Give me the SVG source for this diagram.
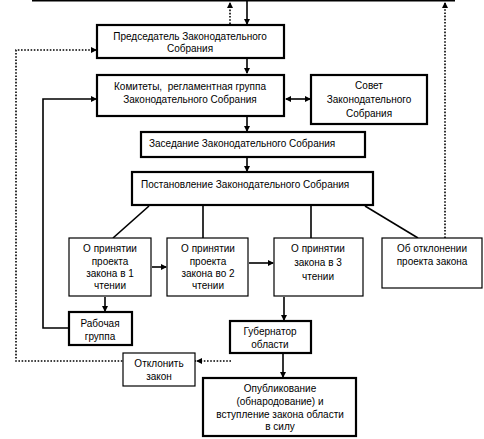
<svg xmlns="http://www.w3.org/2000/svg" width="484" height="439" viewBox="0 0 484 439">
<defs>
<marker id="ah" markerWidth="6" markerHeight="6" refX="5" refY="3" orient="auto-start-reverse" markerUnits="userSpaceOnUse"><path d="M0,0 L6,3 L0,6 z" fill="#000"/></marker>
<style>
text{font-family:"Liberation Sans",Arial,sans-serif;font-size:10px;fill:#000;text-anchor:middle;white-space:pre}
.thick{fill:#fff;stroke:#000;stroke-width:2.2}
.thin{fill:#fff;stroke:#000;stroke-width:1.2}
.ln{fill:none;stroke:#000;stroke-width:1.6}
.dot{fill:none;stroke:#000;stroke-width:1.6;stroke-dasharray:1.6 1.6}
</style>
</defs>
<rect width="484" height="439" fill="#fff"/>
<g id="connectors">
<line class="ln" x1="32" y1="0.8" x2="455" y2="0.8" stroke-width="2"/>
<line class="ln" x1="247" y1="1" x2="247" y2="24" marker-end="url(#ah)"/>
<line class="dot" x1="230" y1="24" x2="230" y2="3" marker-end="url(#ah)"/>
<line class="dot" x1="445" y1="238" x2="445" y2="3" marker-end="url(#ah)"/>
<polyline class="dot" points="196,361 16,361 16,50 96,50" marker-end="url(#ah)"/>
<line class="dot" x1="231" y1="361" x2="197" y2="361" marker-end="url(#ah)"/>
<line class="ln" x1="247" y1="59" x2="247" y2="73" marker-end="url(#ah)"/>
<line class="ln" x1="286" y1="99" x2="310" y2="99" marker-end="url(#ah)" marker-start="url(#ah)"/>
<polyline class="ln" points="69,328 43,328 43,99 96,99" marker-end="url(#ah)"/>
<line class="ln" x1="247" y1="117" x2="247" y2="131" marker-end="url(#ah)"/>
<line class="ln" x1="247" y1="158" x2="247" y2="171" marker-end="url(#ah)"/>
<line class="ln" x1="149" y1="206" x2="113" y2="238"/>
<line class="ln" x1="203" y1="206" x2="203" y2="238"/>
<line class="ln" x1="311" y1="206" x2="311" y2="238"/>
<line class="ln" x1="365" y1="206" x2="418" y2="238"/>
<line class="ln" x1="152" y1="267" x2="166" y2="267" marker-end="url(#ah)"/>
<line class="ln" x1="249" y1="263" x2="273" y2="263" marker-end="url(#ah)"/>
<line class="ln" x1="105" y1="297" x2="105" y2="311" marker-end="url(#ah)"/>
<line class="ln" x1="284" y1="297" x2="284" y2="320" marker-end="url(#ah)"/>
<line class="ln" x1="283" y1="354" x2="283" y2="377" marker-end="url(#ah)"/>
</g>
<g id="n-chair"><rect class="thick" x="97" y="25" width="187" height="33"/><text x="190" y="40">Председатель Законодательного</text><text x="190" y="52">Собрания</text></g>
<g id="n-committees"><rect class="thick" x="97" y="75" width="187" height="41"/><text x="190" y="90" xml:space="preserve">Комитеты,  регламентная группа</text><text x="190" y="103">Законодательного Собрания</text></g>
<g id="n-council"><rect class="thick" x="311" y="75" width="116" height="49"/><text x="369" y="89">Совет</text><text x="369" y="103">Законодательного</text><text x="369" y="117">Собрания</text></g>
<g id="n-session"><rect class="thick" x="141" y="132" width="224" height="25"/><text x="149" y="147" style="text-anchor:start">Заседание Законодательного Собрания</text></g>
<g id="n-resolution"><rect class="thick" x="132" y="172" width="241" height="33"/><text x="141" y="188" style="text-anchor:start">Постановление Законодательного Собрания</text></g>
<g id="n-r1"><rect class="thin" x="69" y="238" width="82" height="58"/><text x="110" y="252">О принятии</text><text x="110" y="265">проекта</text><text x="110" y="277">закона в 1</text><text x="110" y="289">чтении</text></g>
<g id="n-r2"><rect class="thin" x="167" y="238" width="81" height="58"/><text x="208" y="252">О принятии</text><text x="208" y="265">проекта</text><text x="208" y="277">закона во 2</text><text x="208" y="289">чтении</text></g>
<g id="n-r3"><rect class="thin" x="274" y="238" width="89" height="58"/><text x="318" y="252">О принятии</text><text x="318" y="266">закона в 3</text><text x="318" y="280">чтении</text></g>
<g id="n-reject"><rect class="thin" x="382" y="238" width="100" height="50"/><text x="432" y="252">Об отклонении</text><text x="432" y="265">проекта закона</text></g>
<g id="n-workgroup"><rect class="thick" x="69" y="312" width="63" height="33"/><text x="100" y="327">Рабочая</text><text x="100" y="340">группа</text></g>
<g id="n-governor"><rect class="thick" x="230" y="321" width="81" height="32"/><text x="270" y="335">Губернатор</text><text x="270" y="348">области</text></g>
<g id="n-veto"><rect class="thin" x="123" y="353" width="72" height="33"/><text x="159" y="367">Отклонить</text><text x="159" y="380">закон</text></g>
<g id="n-publish"><rect class="thick" x="203" y="378" width="153" height="58"/><text x="280" y="392">Опубликование</text><text x="280" y="405">(обнародование) и</text><text x="280" y="418">вступление закона области</text><text x="280" y="430">в силу</text></g>
</svg>
